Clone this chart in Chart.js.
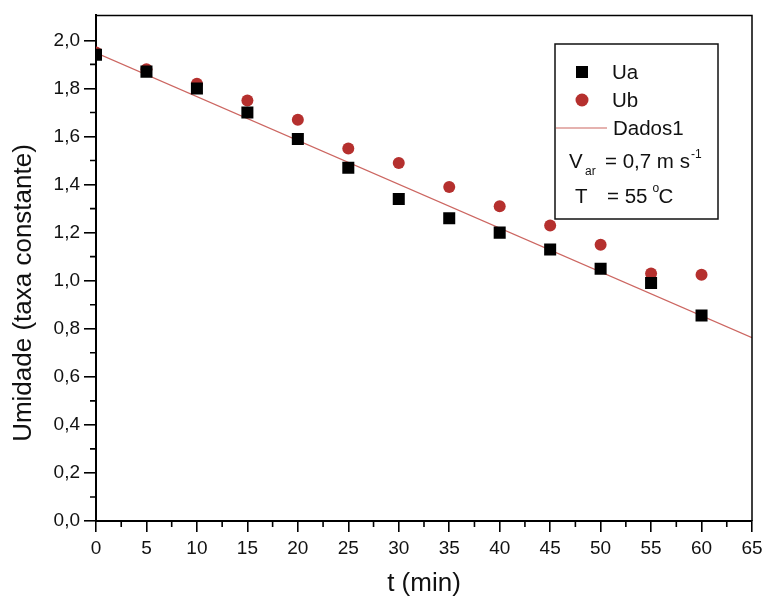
<!DOCTYPE html>
<html>
<head>
<meta charset="utf-8">
<script src="https://cdn.jsdelivr.net/npm/chart.js@4/dist/chart.umd.min.js"></script>
<style>
  html, body { margin: 0; padding: 0; background: #fff; }
  canvas { display: block; }
</style>
</head>
<body>
<canvas id="grafico" width="768" height="602"></canvas>
<script>
// Tempo de secagem (min)
const tempos = [0, 5, 10, 15, 20, 25, 30, 35, 40, 45, 50, 55, 60];
// Umidade medida nas duas amostras
const umidadeUa = [1.94, 1.87, 1.80, 1.70, 1.59, 1.47, 1.34, 1.26, 1.20, 1.13, 1.05, 0.99, 0.855];
const umidadeUb = [1.95, 1.88, 1.82, 1.75, 1.67, 1.55, 1.49, 1.39, 1.31, 1.23, 1.15, 1.03, 1.025];
// Reta ajustada (Dados1): extremos do intervalo
const ajusteT = [0, 65];
const ajusteU = [1.948, 0.763];
// Marcas dos eixos
const ticksX = [0, 5, 10, 15, 20, 25, 30, 35, 40, 45, 50, 55, 60, 65];
const ticksY = [0, 0.2, 0.4, 0.6, 0.8, 1.0, 1.2, 1.4, 1.6, 1.8, 2.0];
const menoresX = [2.5, 7.5, 12.5, 17.5, 22.5, 27.5, 32.5, 37.5, 42.5, 47.5, 52.5, 57.5, 62.5];
const menoresY = [0.1, 0.3, 0.5, 0.7, 0.9, 1.1, 1.3, 1.5, 1.7, 1.9];

const FONTE = '"Liberation Sans", Arial, sans-serif';
const COR_UB = '#b5302e';
const COR_RETA = '#cc6661';
const TITULO_Y = 'Umidade (taxa constante)';

const pares = (xs, ys) => xs.map((x, i) => ({ x: x, y: ys[i] }));

// Moldura, marcas menores, título vertical e legenda
const extras = {
  id: 'extras',
  afterDraw(chart) {
    const ctx = chart.ctx;
    const a = chart.chartArea;
    const sx = chart.scales.x, sy = chart.scales.y;
    ctx.save();
    ctx.strokeStyle = '#000';
    ctx.lineWidth = 1.5;
    ctx.beginPath();
    ctx.moveTo(a.left, a.top);
    ctx.lineTo(a.right, a.top);
    ctx.lineTo(a.right, a.bottom);
    ctx.stroke();

    ctx.lineWidth = 1.6;
    ctx.beginPath();
    menoresX.forEach(v => {
      const px = sx.getPixelForValue(v);
      ctx.moveTo(px, a.bottom);
      ctx.lineTo(px, a.bottom + 6);
    });
    menoresY.forEach(v => {
      const py = sy.getPixelForValue(v);
      ctx.moveTo(a.left, py);
      ctx.lineTo(a.left - 6, py);
    });
    ctx.stroke();

    // Título do eixo vertical
    ctx.save();
    ctx.translate(24, 293);
    ctx.rotate(-Math.PI / 2);
    ctx.fillStyle = '#111';
    ctx.font = '26px ' + FONTE;
    ctx.textAlign = 'center';
    ctx.textBaseline = 'middle';
    ctx.fillText(TITULO_Y, 0, 0);
    ctx.restore();

    // Legenda
    const bx = 555, by = 44, bw = 163, bh = 175;
    ctx.lineWidth = 1.5;
    ctx.strokeStyle = '#111';
    ctx.fillStyle = '#fff';
    ctx.fillRect(bx, by, bw, bh);
    ctx.strokeRect(bx, by, bw, bh);

    ctx.fillStyle = '#000';
    ctx.fillRect(576, 66, 12, 12);
    ctx.fillStyle = COR_UB;
    ctx.beginPath();
    ctx.arc(582, 100, 6.5, 0, Math.PI * 2);
    ctx.fill();
    ctx.strokeStyle = COR_RETA;
    ctx.lineWidth = 1.2;
    ctx.beginPath();
    ctx.moveTo(bx + 1, 128);
    ctx.lineTo(607, 128);
    ctx.stroke();

    ctx.fillStyle = '#111';
    ctx.textBaseline = 'middle';
    ctx.textAlign = 'left';
    ctx.font = '20.5px ' + FONTE;
    ctx.fillText('Ua', 612, 73);
    ctx.fillText('Ub', 612, 101);
    ctx.fillText('Dados1', 613, 129);

    ctx.fillText('V', 569, 162);
    ctx.font = '12px ' + FONTE;
    ctx.fillText('ar', 585, 172);
    ctx.font = '20.5px ' + FONTE;
    ctx.fillText('= 0,7 m s', 605, 162);
    const w = ctx.measureText('= 0,7 m s').width;
    ctx.font = '12px ' + FONTE;
    ctx.fillText('-1', 605 + w + 1, 155);
    ctx.font = '20.5px ' + FONTE;
    ctx.fillText('T', 575, 197);
    ctx.fillText('= 55', 607, 197);
    const w2 = ctx.measureText('= 55').width;
    ctx.font = '12px ' + FONTE;
    ctx.fillText('o', 607 + w2 + 5, 189);
    ctx.font = '20.5px ' + FONTE;
    ctx.fillText('C', 607 + w2 + 11, 197);
    ctx.restore();
  }
};

new Chart(document.getElementById('grafico'), {
  type: 'scatter',
  data: {
    datasets: [
      {
        label: 'Ua',
        data: pares(tempos, umidadeUa),
        pointStyle: 'rect',
        pointRadius: 8.5,
        backgroundColor: '#000',
        borderColor: '#000',
        borderWidth: 0,
        order: 1
      },
      {
        label: 'Ub',
        data: pares(tempos, umidadeUb),
        pointStyle: 'circle',
        pointRadius: 6,
        backgroundColor: COR_UB,
        borderColor: COR_UB,
        borderWidth: 0,
        order: 2
      },
      {
        label: 'Dados1',
        type: 'line',
        data: pares(ajusteT, ajusteU),
        borderColor: COR_RETA,
        borderWidth: 1.3,
        pointRadius: 0,
        fill: false,
        order: 3
      }
    ]
  },
  options: {
    responsive: false,
    animation: false,
    layout: { padding: { left: 0, top: 14, right: 16, bottom: 3 } },
    plugins: { legend: { display: false }, tooltip: { enabled: false } },
    scales: {
      x: {
        type: 'linear',
        min: 0,
        max: 65,
        afterBuildTicks: s => { s.ticks = ticksX.map(v => ({ value: v })); },
        afterFit: s => { s.height = 78; },
        border: { display: true, color: '#000', width: 2 },
        grid: { display: true, drawOnChartArea: false, drawTicks: true, tickLength: 11, color: '#000', lineWidth: 1.6 },
        ticks: {
          color: '#111',
          font: { family: FONTE, size: 19 },
          padding: 5,
          maxRotation: 0,
          callback: v => String(v)
        },
        title: {
          display: true,
          text: 't (min)',
          color: '#111',
          font: { family: FONTE, size: 26 },
          padding: { top: 4, bottom: 0 }
        }
      },
      y: {
        type: 'linear',
        min: 0,
        max: 2.104,
        afterBuildTicks: s => { s.ticks = ticksY.map(v => ({ value: v })); },
        afterFit: s => { s.width = 96; },
        border: { display: true, color: '#000', width: 2 },
        grid: { display: true, drawOnChartArea: false, drawTicks: true, tickLength: 12, color: '#000', lineWidth: 1.6 },
        ticks: {
          color: '#111',
          font: { family: FONTE, size: 19 },
          padding: 4,
          callback: v => v.toFixed(1).replace('.', ',')
        }
      }
    }
  },
  plugins: [extras]
});
</script>
</body>
</html>
